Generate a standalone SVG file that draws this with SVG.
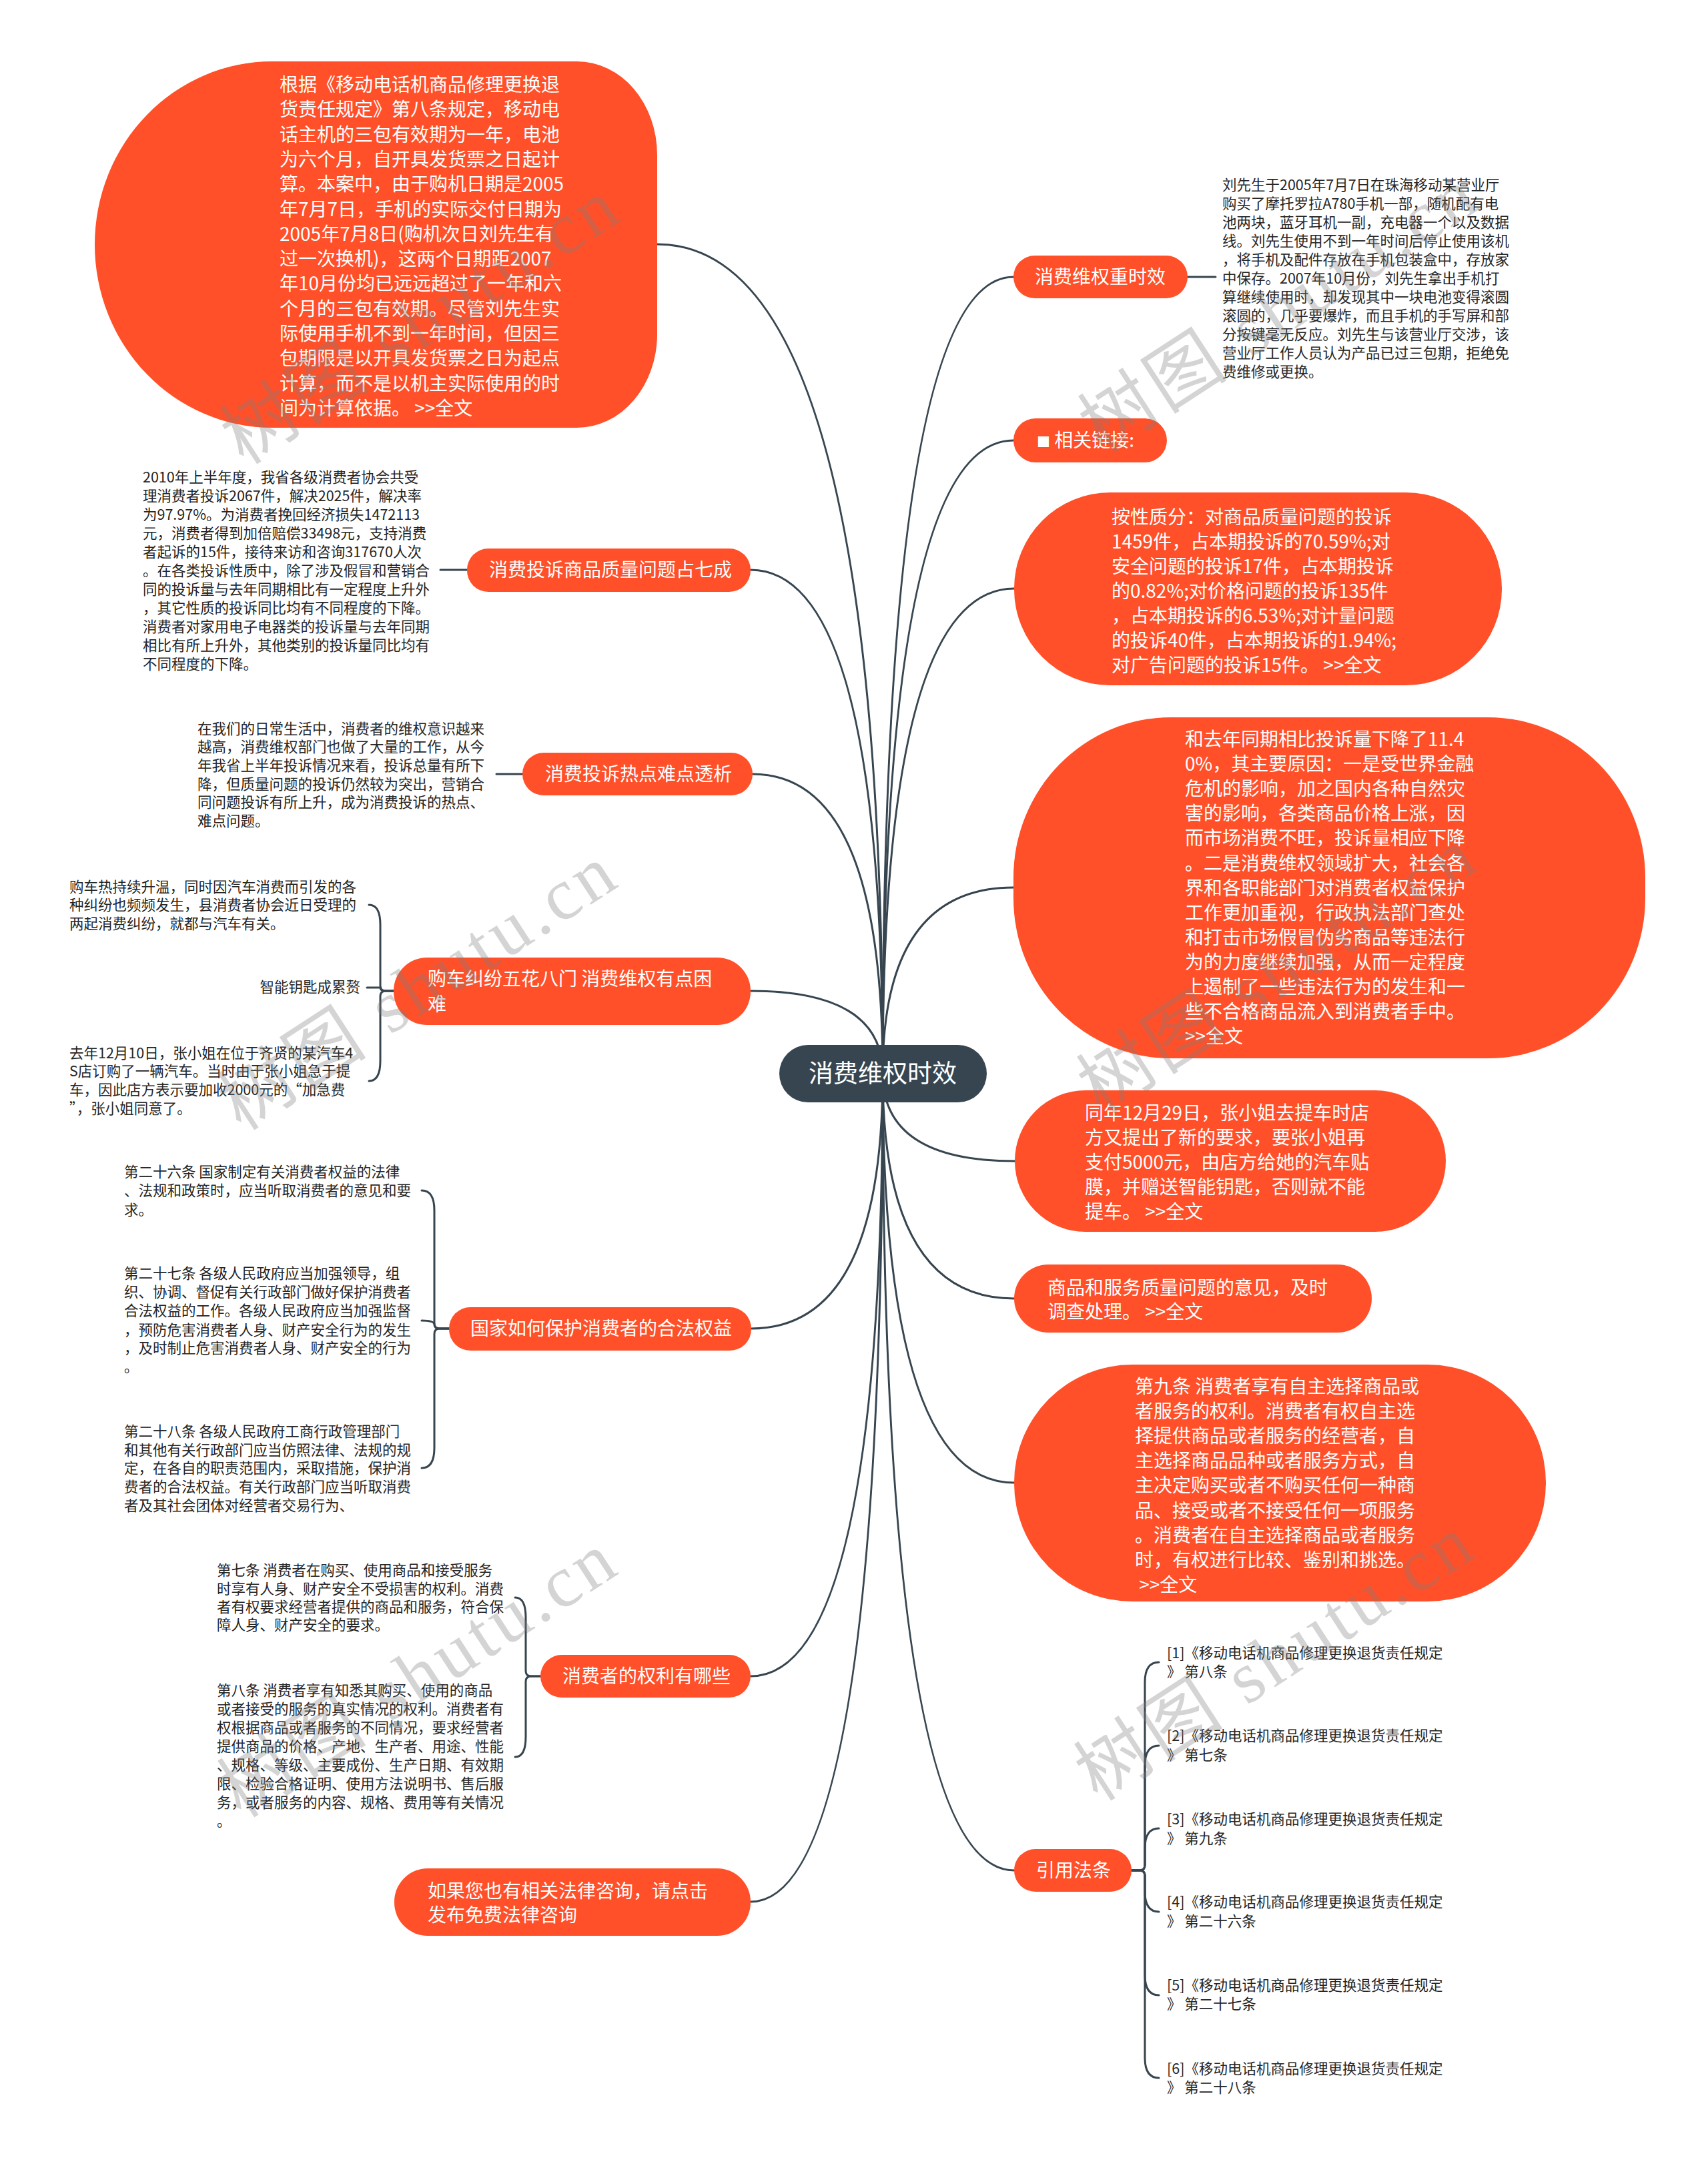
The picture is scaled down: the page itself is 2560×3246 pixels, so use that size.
<svg xmlns="http://www.w3.org/2000/svg" width="2560" height="3246" viewBox="0 0 2560 3246">
<style>
text{font-family:"Noto Sans CJK SC","Noto Sans",sans-serif}
.n{fill:#FF5029}
.root{fill:#36454F}
.c{fill:none;stroke:#36454F;stroke-width:3;stroke-linecap:round}
.w{fill:#ffffff;font-size:28px}
.t{fill:#262626;font-size:21.5px}
.wm{font-family:"Liberation Serif","Noto Sans CJK SC",serif;font-size:110px;fill:#7f7f7f;opacity:0.33;letter-spacing:6px}
</style>
<rect width="2560" height="3246" fill="#ffffff"/>
<g id="connectors">
<path class="c" d="M1323 1609 Q1323 415 1519 415"/>
<path class="c" d="M1323 1609 Q1323 660 1519 660"/>
<path class="c" d="M1323 1609 Q1323 882 1520 882"/>
<path class="c" d="M1323 1609 Q1323 1330 1519 1330"/>
<path class="c" d="M1323 1609 Q1323 1740 1521 1740"/>
<path class="c" d="M1323 1609 Q1323 1946 1520 1946"/>
<path class="c" d="M1323 1609 Q1323 2222 1520 2222"/>
<path class="c" d="M1323 1609 Q1323 2803 1520 2803"/>
<path class="c" d="M1323 1609 Q1323 366 985 366"/>
<path class="c" d="M1323 1609 Q1323 854 1125 854"/>
<path class="c" d="M1323 1609 Q1323 1160 1128 1160"/>
<path class="c" d="M1323 1609 Q1323 1485 1125 1485"/>
<path class="c" d="M1323 1609 Q1323 1991 1126 1991"/>
<path class="c" d="M1323 1609 Q1323 2512 1125 2512"/>
<path class="c" d="M1323 1609 Q1323 2850 1125 2850"/>
<path class="c" d="M1780 415 H1822"/>
<path class="c" d="M700 854 H660"/>
<path class="c" d="M783 1160 H744"/>
<path class="c" d="M590 1485 H578 Q570 1485 570 1477 V1386 Q570 1356 553 1356"/>
<path class="c" d="M590 1485 H578 Q570 1485 570 1480 H550"/>
<path class="c" d="M590 1485 H578 Q570 1485 570 1493 V1590 Q570 1620 553 1620"/>
<path class="c" d="M673 1991 H659 Q651 1991 651 1983 V1814 Q651 1784 632 1784"/>
<path class="c" d="M673 1991 H659 Q651 1991 651 1985 Q651 1979 632 1979"/>
<path class="c" d="M673 1991 H659 Q651 1991 651 1999 V2170 Q651 2200 632 2200"/>
<path class="c" d="M810 2512 H796 Q788 2512 788 2504 V2424 Q788 2394 772 2394"/>
<path class="c" d="M810 2512 H796 Q788 2512 788 2520 V2603 Q788 2633 772 2633"/>
<path class="c" d="M1696 2803 H1708 Q1716 2803 1716 2795 V2521 Q1716 2491 1737 2491"/>
<path class="c" d="M1696 2803 H1708 Q1716 2803 1716 2795 V2646 Q1716 2616 1737 2616"/>
<path class="c" d="M1696 2803 H1708 Q1716 2803 1716 2795 V2770 Q1716 2740 1737 2740"/>
<path class="c" d="M1696 2803 H1708 Q1716 2803 1716 2811 V2835 Q1716 2865 1737 2865"/>
<path class="c" d="M1696 2803 H1708 Q1716 2803 1716 2811 V2960 Q1716 2990 1737 2990"/>
<path class="c" d="M1696 2803 H1708 Q1716 2803 1716 2811 V3084 Q1716 3114 1737 3114"/>
</g>
<g id="root">
<rect class="root" x="1168" y="1566" width="311" height="86" rx="43"/>
<text x="1323" y="1622" text-anchor="middle" fill="#ffffff" font-size="37">消费维权时效</text>
</g>
<g id="r1">
<rect class="n" x="1519" y="383" width="261" height="64" rx="32"/>
<text class="w" x="1551" y="425">消费维权重时效</text>
</g>
<g id="r1-detail">
<text class="t"><tspan x="1832" y="285">刘先生于2005年7月7日在珠海移动某营业厅</tspan><tspan x="1832" y="313">购买了摩托罗拉A780手机一部，随机配有电</tspan><tspan x="1832" y="341">池两块，蓝牙耳机一副，充电器一个以及数据</tspan><tspan x="1832" y="369">线。刘先生使用不到一年时间后停止使用该机</tspan><tspan x="1832" y="397">，将手机及配件存放在手机包装盒中，存放家</tspan><tspan x="1832" y="425">中保存。2007年10月份，刘先生拿出手机打</tspan><tspan x="1832" y="453">算继续使用时，却发现其中一块电池变得滚圆</tspan><tspan x="1832" y="481">滚圆的，几乎要爆炸，而且手机的手写屏和部</tspan><tspan x="1832" y="509">分按键毫无反应。刘先生与该营业厅交涉，该</tspan><tspan x="1832" y="537">营业厅工作人员认为产品已过三包期，拒绝免</tspan><tspan x="1832" y="565">费维修或更换。</tspan></text>
</g>
<g id="r2">
<rect class="n" x="1519" y="627" width="230" height="66" rx="33"/>
<text class="w" x="1554" y="670"><tspan font-size="20">■</tspan> 相关链接:</text>
</g>
<g id="r3">
<rect class="n" x="1520" y="738" width="731" height="289" rx="144"/>
<text class="w"><tspan x="1666" y="785">按性质分：对商品质量问题的投诉</tspan><tspan x="1666" y="822">1459件，占本期投诉的70.59%;对</tspan><tspan x="1666" y="859">安全问题的投诉17件，占本期投诉</tspan><tspan x="1666" y="896">的0.82%;对价格问题的投诉135件</tspan><tspan x="1666" y="933">，占本期投诉的6.53%;对计量问题</tspan><tspan x="1666" y="970">的投诉40件，占本期投诉的1.94%;</tspan><tspan x="1666" y="1007">对广告问题的投诉15件。 &gt;&gt;全文</tspan></text>
</g>
<g id="r4">
<rect class="n" x="1519" y="1075" width="947" height="511" rx="236" ry="240"/>
<text class="w"><tspan x="1776" y="1118">和去年同期相比投诉量下降了11.4</tspan><tspan x="1776" y="1155">0%，其主要原因：一是受世界金融</tspan><tspan x="1776" y="1192">危机的影响，加之国内各种自然灾</tspan><tspan x="1776" y="1229">害的影响，各类商品价格上涨，因</tspan><tspan x="1776" y="1266">而市场消费不旺，投诉量相应下降</tspan><tspan x="1776" y="1304">。二是消费维权领域扩大，社会各</tspan><tspan x="1776" y="1341">界和各职能部门对消费者权益保护</tspan><tspan x="1776" y="1378">工作更加重视，行政执法部门查处</tspan><tspan x="1776" y="1415">和打击市场假冒伪劣商品等违法行</tspan><tspan x="1776" y="1452">为的力度继续加强，从而一定程度</tspan><tspan x="1776" y="1489">上遏制了一些违法行为的发生和一</tspan><tspan x="1776" y="1526">些不合格商品流入到消费者手中。</tspan><tspan x="1776" y="1563">&gt;&gt;全文</tspan></text>
</g>
<g id="r5">
<rect class="n" x="1521" y="1634" width="646" height="212" rx="106"/>
<text class="w"><tspan x="1626" y="1678">同年12月29日，张小姐去提车时店</tspan><tspan x="1626" y="1715">方又提出了新的要求，要张小姐再</tspan><tspan x="1626" y="1752">支付5000元，由店方给她的汽车贴</tspan><tspan x="1626" y="1789">膜，并赠送智能钥匙，否则就不能</tspan><tspan x="1626" y="1826">提车。 &gt;&gt;全文</tspan></text>
</g>
<g id="r6">
<rect class="n" x="1520" y="1895" width="536" height="102" rx="51"/>
<text class="w"><tspan x="1570" y="1940">商品和服务质量问题的意见，及时</tspan><tspan x="1570" y="1976">调查处理。 &gt;&gt;全文</tspan></text>
</g>
<g id="r7">
<rect class="n" x="1520" y="2045" width="797" height="355" rx="177"/>
<text class="w"><tspan x="1701" y="2088">第九条 消费者享有自主选择商品或</tspan><tspan x="1701" y="2125">者服务的权利。消费者有权自主选</tspan><tspan x="1701" y="2162">择提供商品或者服务的经营者，自</tspan><tspan x="1701" y="2199">主选择商品品种或者服务方式，自</tspan><tspan x="1701" y="2236">主决定购买或者不购买任何一种商</tspan><tspan x="1701" y="2274">品、接受或者不接受任何一项服务</tspan><tspan x="1701" y="2311">。消费者在自主选择商品或者服务</tspan><tspan x="1701" y="2348">时，有权进行比较、鉴别和挑选。</tspan><tspan x="1701" y="2385"> &gt;&gt;全文</tspan></text>
</g>
<g id="r8">
<rect class="n" x="1520" y="2771" width="176" height="64" rx="32"/>
<text class="w" x="1553" y="2813">引用法条</text>
</g>
<g id="r8-refs">
<text class="t"><tspan x="1749" y="2485">[1]《移动电话机商品修理更换退货责任规定</tspan><tspan x="1749" y="2513">》 第八条</tspan></text>
<text class="t"><tspan x="1749" y="2609">[2]《移动电话机商品修理更换退货责任规定</tspan><tspan x="1749" y="2638">》 第七条</tspan></text>
<text class="t"><tspan x="1749" y="2734">[3]《移动电话机商品修理更换退货责任规定</tspan><tspan x="1749" y="2763">》 第九条</tspan></text>
<text class="t"><tspan x="1749" y="2858">[4]《移动电话机商品修理更换退货责任规定</tspan><tspan x="1749" y="2887">》 第二十六条</tspan></text>
<text class="t"><tspan x="1749" y="2983">[5]《移动电话机商品修理更换退货责任规定</tspan><tspan x="1749" y="3011">》 第二十七条</tspan></text>
<text class="t"><tspan x="1749" y="3108">[6]《移动电话机商品修理更换退货责任规定</tspan><tspan x="1749" y="3136">》 第二十八条</tspan></text>
</g>
<g id="l1">
<path class="n" d="M408 92 H865 A120 140 0 0 1 985 232 V501 A120 140 0 0 1 865 641 H408 A266 274.5 0 0 1 142 366.5 A266 274.5 0 0 1 408 92 Z"/>
<text class="w"><tspan x="419" y="137">根据《移动电话机商品修理更换退</tspan><tspan x="419" y="174">货责任规定》第八条规定，移动电</tspan><tspan x="419" y="212">话主机的三包有效期为一年，电池</tspan><tspan x="419" y="249">为六个月，自开具发货票之日起计</tspan><tspan x="419" y="286">算。本案中，由于购机日期是2005</tspan><tspan x="419" y="324">年7月7日，手机的实际交付日期为</tspan><tspan x="419" y="361">2005年7月8日(购机次日刘先生有</tspan><tspan x="419" y="398">过一次换机)，这两个日期距2007</tspan><tspan x="419" y="435">年10月份均已远远超过了一年和六</tspan><tspan x="419" y="473">个月的三包有效期。尽管刘先生实</tspan><tspan x="419" y="510">际使用手机不到一年时间，但因三</tspan><tspan x="419" y="547">包期限是以开具发货票之日为起点</tspan><tspan x="419" y="585">计算，而不是以机主实际使用的时</tspan><tspan x="419" y="622">间为计算依据。 &gt;&gt;全文</tspan></text>
</g>
<g id="l2">
<rect class="n" x="700" y="822" width="425" height="65" rx="32"/>
<text class="w" x="733" y="864">消费投诉商品质量问题占七成</text>
</g>
<g id="l2-detail">
<text class="t"><tspan x="214" y="723">2010年上半年度，我省各级消费者协会共受</tspan><tspan x="214" y="751">理消费者投诉2067件，解决2025件，解决率</tspan><tspan x="214" y="779">为97.97%。为消费者挽回经济损失1472113</tspan><tspan x="214" y="807">元，消费者得到加倍赔偿33498元，支持消费</tspan><tspan x="214" y="835">者起诉的15件，接待来访和咨询317670人次</tspan><tspan x="214" y="863">。在各类投诉性质中，除了涉及假冒和营销合</tspan><tspan x="214" y="891">同的投诉量与去年同期相比有一定程度上升外</tspan><tspan x="214" y="919">，其它性质的投诉同比均有不同程度的下降。</tspan><tspan x="214" y="947">消费者对家用电子电器类的投诉量与去年同期</tspan><tspan x="214" y="975">相比有所上升外，其他类别的投诉量同比均有</tspan><tspan x="214" y="1003">不同程度的下降。</tspan></text>
</g>
<g id="l3">
<rect class="n" x="783" y="1128" width="345" height="64" rx="32"/>
<text class="w" x="817" y="1170">消费投诉热点难点透析</text>
</g>
<g id="l3-detail">
<text class="t"><tspan x="296" y="1100">在我们的日常生活中，消费者的维权意识越来</tspan><tspan x="296" y="1127">越高，消费维权部门也做了大量的工作，从今</tspan><tspan x="296" y="1155">年我省上半年投诉情况来看，投诉总量有所下</tspan><tspan x="296" y="1183">降，但质量问题的投诉仍然较为突出，营销合</tspan><tspan x="296" y="1210">同问题投诉有所上升，成为消费投诉的热点、</tspan><tspan x="296" y="1238">难点问题。</tspan></text>
</g>
<g id="l4">
<rect class="n" x="590" y="1435" width="535" height="101" rx="50"/>
<text class="w"><tspan x="641" y="1477">购车纠纷五花八门 消费维权有点困</tspan><tspan x="641" y="1515">难</tspan></text>
</g>
<g id="l4-children">
<text class="t"><tspan x="104" y="1337">购车热持续升温，同时因汽车消费而引发的各</tspan><tspan x="104" y="1364">种纠纷也频频发生，县消费者协会近日受理的</tspan><tspan x="104" y="1392">两起消费纠纷，就都与汽车有关。</tspan></text>
<text class="t" x="540" y="1487" text-anchor="end">智能钥匙成累赘</text>
<text class="t"><tspan x="104" y="1586">去年12月10日，张小姐在位于齐贤的某汽车4</tspan><tspan x="104" y="1613">S店订购了一辆汽车。当时由于张小姐急于提</tspan><tspan x="104" y="1641">车，因此店方表示要加收2000元的“加急费</tspan><tspan x="104" y="1669">”，张小姐同意了。</tspan></text>
</g>
<g id="l5">
<rect class="n" x="673" y="1959" width="453" height="65" rx="32"/>
<text class="w" x="705" y="2001">国家如何保护消费者的合法权益</text>
</g>
<g id="l5-children">
<text class="t"><tspan x="186" y="1764">第二十六条 国家制定有关消费者权益的法律</tspan><tspan x="186" y="1792">、法规和政策时，应当听取消费者的意见和要</tspan><tspan x="186" y="1821">求。</tspan></text>
<text class="t"><tspan x="186" y="1916">第二十七条 各级人民政府应当加强领导，组</tspan><tspan x="186" y="1944">织、协调、督促有关行政部门做好保护消费者</tspan><tspan x="186" y="1972">合法权益的工作。各级人民政府应当加强监督</tspan><tspan x="186" y="2001">，预防危害消费者人身、财产安全行为的发生</tspan><tspan x="186" y="2028">，及时制止危害消费者人身、财产安全的行为</tspan><tspan x="186" y="2056">。</tspan></text>
<text class="t"><tspan x="186" y="2153">第二十八条 各级人民政府工商行政管理部门</tspan><tspan x="186" y="2181">和其他有关行政部门应当仿照法律、法规的规</tspan><tspan x="186" y="2208">定，在各自的职责范围内，采取措施，保护消</tspan><tspan x="186" y="2236">费者的合法权益。有关行政部门应当听取消费</tspan><tspan x="186" y="2264">者及其社会团体对经营者交易行为、</tspan></text>
</g>
<g id="l6">
<rect class="n" x="810" y="2480" width="315" height="64" rx="32"/>
<text class="w" x="843" y="2522">消费者的权利有哪些</text>
</g>
<g id="l6-children">
<text class="t"><tspan x="325" y="2361">第七条 消费者在购买、使用商品和接受服务</tspan><tspan x="325" y="2389">时享有人身、财产安全不受损害的权利。消费</tspan><tspan x="325" y="2416">者有权要求经营者提供的商品和服务，符合保</tspan><tspan x="325" y="2443">障人身、财产安全的要求。</tspan></text>
<text class="t"><tspan x="325" y="2541">第八条 消费者享有知悉其购买、使用的商品</tspan><tspan x="325" y="2569">或者接受的服务的真实情况的权利。消费者有</tspan><tspan x="325" y="2597">权根据商品或者服务的不同情况，要求经营者</tspan><tspan x="325" y="2625">提供商品的价格、产地、生产者、用途、性能</tspan><tspan x="325" y="2653">、规格、等级、主要成份、生产日期、有效期</tspan><tspan x="325" y="2681">限、检验合格证明、使用方法说明书、售后服</tspan><tspan x="325" y="2709">务，或者服务的内容、规格、费用等有关情况</tspan><tspan x="325" y="2737">。</tspan></text>
</g>
<g id="l7">
<rect class="n" x="591" y="2800" width="534" height="101" rx="50"/>
<text class="w"><tspan x="641" y="2844">如果您也有相关法律咨询，请点击</tspan><tspan x="641" y="2880">发布免费法律咨询</tspan></text>
</g>
<g id="watermarks">
<text class="wm" text-anchor="middle" transform="translate(652 512) rotate(-33)">树图 shutu.cn</text>
<text class="wm" text-anchor="middle" transform="translate(1938 495) rotate(-33)">树图 shutu.cn</text>
<text class="wm" text-anchor="middle" transform="translate(648 1510) rotate(-33)">树图 shutu.cn</text>
<text class="wm" text-anchor="middle" transform="translate(1936 1485) rotate(-33)">树图 shutu.cn</text>
<text class="wm" text-anchor="middle" transform="translate(648 2540) rotate(-33)">树图 shutu.cn</text>
<text class="wm" text-anchor="middle" transform="translate(1932 2515) rotate(-33)">树图 shutu.cn</text>
</g>
</svg>
